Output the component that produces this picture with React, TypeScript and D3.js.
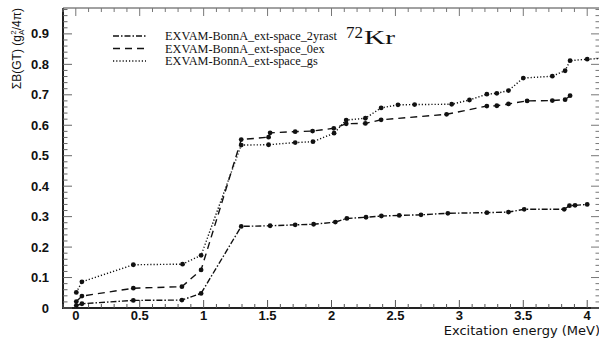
import React from "react";
import * as d3 from "d3";

const yrastX = [0.004, 0.048, 0.45, 0.83, 0.98, 1.294, 1.52, 1.716, 1.86, 2.03, 2.12, 2.27, 2.39, 2.53, 2.70, 2.91, 3.215, 3.384, 3.507, 3.82, 3.861, 3.905, 4.0];
const yrastY = [0.008, 0.014, 0.025, 0.026, 0.048, 0.268, 0.270, 0.273, 0.275, 0.282, 0.294, 0.298, 0.302, 0.304, 0.306, 0.311, 0.313, 0.315, 0.324, 0.324, 0.336, 0.337, 0.340];

const exX = [0.004, 0.048, 0.45, 0.83, 0.98, 1.294, 1.508, 1.52, 1.716, 1.852, 2.018, 2.115, 2.265, 2.388, 2.90, 3.215, 3.293, 3.384, 3.53, 3.727, 3.827, 3.866];
const exY = [0.021, 0.039, 0.065, 0.070, 0.125, 0.553, 0.561, 0.575, 0.579, 0.581, 0.590, 0.605, 0.606, 0.618, 0.636, 0.663, 0.664, 0.670, 0.680, 0.681, 0.684, 0.697];

const gsX = [0.004, 0.048, 0.45, 0.835, 0.98, 1.294, 1.508, 1.716, 1.855, 2.02, 2.115, 2.265, 2.388, 2.52, 2.65, 2.94, 3.079, 3.215, 3.293, 3.384, 3.50, 3.727, 3.827, 3.866, 4.0, 4.15];
const gsY = [0.051, 0.086, 0.142, 0.144, 0.173, 0.535, 0.536, 0.543, 0.546, 0.574, 0.617, 0.623, 0.657, 0.667, 0.668, 0.669, 0.683, 0.702, 0.705, 0.714, 0.755, 0.761, 0.779, 0.812, 0.817, 0.820];

const seriesNames = ["EXVAM-BonnA_ext-space_2yrast", "EXVAM-BonnA_ext-space_0ex", "EXVAM-BonnA_ext-space_gs"];
const xTicks = [0, 0.5, 1, 1.5, 2, 2.5, 3, 3.5, 4];
const xTickLabels = ["0", "0.5", "1", "1.5", "2", "2.5", "3", "3.5", "4"];
const yTicks = [0, 0.1, 0.2, 0.3, 0.4, 0.5, 0.6, 0.7, 0.8, 0.9];
const yTickLabels = ["0", "0.1", "0.2", "0.3", "0.4", "0.5", "0.6", "0.7", "0.8", "0.9"];

const W = 599, H = 338;
const L = 63, R = 600, T = 8, B = 308;

export default function App() {
  const x = d3.scaleLinear().domain([-0.1, 4.1]).range([L, R]);
  const y = d3.scaleLinear().domain([0, 0.985]).range([B, T]);
  const line = d3.line<[number, number]>().x(d => x(d[0])).y(d => y(d[1]));

  const series = [
    { xs: yrastX, ys: yrastY, dash: "6,2,1.5,2", name: seriesNames[0] },
    { xs: exX, ys: exY, dash: "7,5", name: seriesNames[1] },
    { xs: gsX, ys: gsY, dash: "1.2,2", name: seriesNames[2] },
  ];

  const xMinor = d3.range(-0.1, 4.101, 0.1).map(v => +v.toFixed(2));
  const yMinor = d3.range(0, 0.981, 0.02).map(v => +v.toFixed(2));
  const isMajorX = (v: number) => Math.abs(v * 2 - Math.round(v * 2)) < 1e-6;
  const isMajorY = (v: number) => Math.abs(v * 10 - Math.round(v * 10)) < 1e-6;

  const legendY = [36, 48.5, 61];

  return (
    <svg width={W} height={H} style={{ position: "absolute", left: 0, top: 0, background: "#fff" }}>
      <defs>
        <clipPath id="plot"><rect x={L} y={T} width={R - L} height={B - T} /></clipPath>
      </defs>
      <rect x={0} y={0} width={W} height={H} fill="#fff" />
      {/* frame */}
      <line x1={L} x2={L} y1={T} y2={B + 1} stroke="#222" strokeWidth={2} />
      <line x1={L - 1} x2={R} y1={B} y2={B} stroke="#222" strokeWidth={2} />
      <line x1={L} x2={R} y1={T} y2={T} stroke="#444" strokeWidth={1} />
      {/* x ticks bottom & top */}
      {xMinor.map((v, i) => {
        const maj = isMajorX(v);
        return (
          <g key={"xt" + i}>
            <line x1={x(v)} x2={x(v)} y1={B} y2={B - (maj ? 8 : 4)} stroke="#555" strokeWidth={1} />
            <line x1={x(v)} x2={x(v)} y1={T} y2={T + (maj ? 8 : 4)} stroke="#777" strokeWidth={1} />
          </g>
        );
      })}
      {/* y ticks left & right */}
      {yMinor.map((v, i) => {
        const maj = isMajorY(v);
        return (
          <g key={"yt" + i}>
            <line x1={L} x2={L + (maj ? 9 : 4.5)} y1={y(v)} y2={y(v)} stroke="#666" strokeWidth={1} />
            <line x1={R} x2={R - (maj ? 9 : 4.5)} y1={y(v)} y2={y(v)} stroke="#777" strokeWidth={1} />
          </g>
        );
      })}
      {/* tick labels */}
      {xTicks.map((v, i) => (
        <text key={"xl" + i} x={x(v)} y={319.5} textAnchor="middle" fontFamily="Liberation Sans, Arial, sans-serif" fontWeight="bold" fontSize={13} fill="#111">{xTickLabels[i]}</text>
      ))}
      {yTicks.map((v, i) => (
        <text key={"yl" + i} x={49} y={y(v) + 4.5} textAnchor="end" fontFamily="Liberation Sans, Arial, sans-serif" fontWeight="bold" fontSize={13} fill="#111">{yTickLabels[i]}</text>
      ))}
      {/* axis titles */}
      <text x={600} y={335} textAnchor="end" fontFamily="DejaVu Sans, sans-serif" fontSize={13} fill="#111">Excitation energy (MeV)</text>
      <text transform="translate(21,8) rotate(-90)" textAnchor="end" fontFamily="Liberation Sans, Arial, sans-serif" fontSize={12} fill="#111">
        ΣB(GT) (g<tspan fontSize={8} dy={3}>A</tspan><tspan fontSize={8} dx={-5} dy={-8}>2</tspan><tspan dy={5}>/4π)</tspan>
      </text>
      {/* data */}
      <g clipPath="url(#plot)">
        {series.map((s, si) => {
          const pts = s.xs.map((xv, i) => [xv, s.ys[i]] as [number, number]);
          return (
            <g key={"s" + si}>
              <path d={line(pts) || ""} fill="none" stroke="#111" strokeWidth={1.4} strokeDasharray={s.dash} />
              {pts.map((p, i) => (
                <circle key={i} cx={x(p[0])} cy={y(p[1])} r={2.4} fill="#111" />
              ))}
            </g>
          );
        })}
      </g>
      {/* legend */}
      {series.map((s, si) => (
        <g key={"lg" + si}>
          <line x1={113} x2={146} y1={legendY[si]} y2={legendY[si]} stroke="#111" strokeWidth={1.4} strokeDasharray={s.dash} />
          <text x={165} y={legendY[si] + 4} fontFamily="Liberation Serif, Times New Roman, serif" fontSize={12.3} fill="#111">{s.name}</text>
        </g>
      ))}
      {/* nucleus label */}
      <text x={346} y={38} fontFamily="Liberation Serif, Times New Roman, serif" fontSize={17} fill="#111">72</text>
      <text x={364} y={44} fontFamily="Liberation Serif, Times New Roman, serif" fontSize={19} textLength={31} lengthAdjust="spacingAndGlyphs" fill="#111">Kr</text>
    </svg>
  );
}
